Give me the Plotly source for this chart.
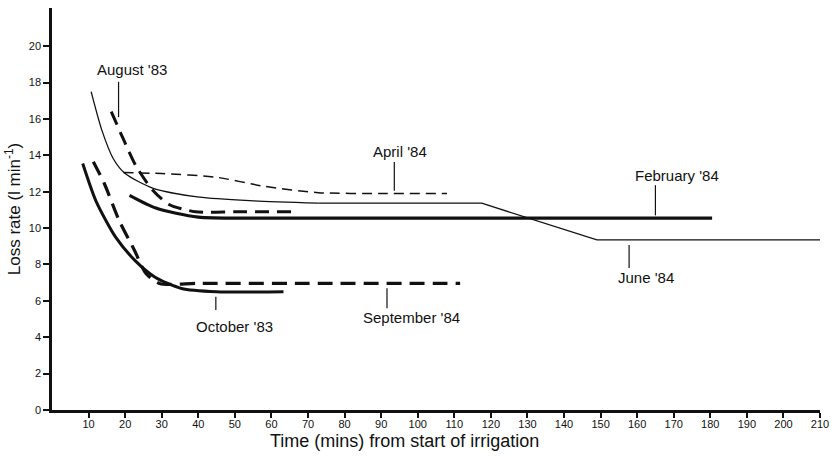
import plotly.graph_objects as go

# ---- data ----
june84_x = [10.7, 13.6, 16.8, 20.0, 27.5, 40.3, 55, 72.8, 95, 117.5, 149, 180, 210]
june84_y = [17.5, 15.4, 13.8, 13.0, 12.2, 11.7, 11.5, 11.37, 11.37, 11.37, 9.35, 9.35, 9.35]
june84_bend = 7  # index where the curved part ends and the straight segments begin

april84_x = [19.5, 30, 44.8, 58, 72.8, 90, 108]
april84_y = [13.05, 13.0, 12.8, 12.3, 11.95, 11.9, 11.9]

aug83_x = [16.2, 19.5, 23.0, 27.5, 32.0, 39.2, 50, 66]
aug83_y = [16.4, 14.9, 13.4, 12.1, 11.3, 10.9, 10.9, 10.9]

feb84_x = [21.2, 28.4, 40.0, 60, 100, 140, 180.5]
feb84_y = [11.8, 11.1, 10.6, 10.55, 10.55, 10.55, 10.55]

oct83_x = [8.4, 12.0, 17.4, 22.8, 28.2, 35.4, 45, 63.3]
oct83_y = [13.55, 11.5, 9.5, 8.2, 7.3, 6.68, 6.5, 6.5]

sep84_x = [11.3, 14.3, 18.4, 22.5, 25.7, 29.4, 40, 70, 111.6]
sep84_y = [13.65, 12.45, 10.4, 8.8, 7.5, 6.96, 6.96, 6.96, 6.96]

label_text = ["August '83", "April '84", "February '84", "June '84", "October '83", "September '84"]
label_x = [21.9, 95.1, 171.0, 162.5, 50.0, 98.4]
label_y = [18.7, 14.2, 12.9, 7.3, 4.58, 5.1]
leader_x = [18.2, 93.6, 165.0, 157.8, 44.8, 91.6]
leader_y0 = [18.04, 13.64, 12.36, 9.07, 6.23, 6.7]
leader_y1 = [16.1, 12.05, 10.7, 7.8, 5.5, 5.6]

x_ticks = list(range(10, 211, 10))
y_ticks = list(range(0, 21, 2))

INK = "#111111"
FONT = "Liberation Sans Narrow, Liberation Sans, Arial, sans-serif"
TFONT = "Liberation Sans, Arial, sans-serif"

fig = go.Figure()

def add(x, y, width, dash, shape="spline"):
    line = dict(color=INK, width=width, dash=dash, shape=shape)
    if shape == "spline":
        line["smoothing"] = 0.7
    fig.add_trace(go.Scatter(x=x, y=y, mode="lines", line=line,
                             showlegend=False, hoverinfo="skip"))

add(june84_x[:june84_bend + 1], june84_y[:june84_bend + 1], 1.3, "solid")
add(june84_x[june84_bend:], june84_y[june84_bend:], 1.3, "solid", shape="linear")
add(april84_x, april84_y, 1.5, "10px,6px")
add(aug83_x, aug83_y, 3.0, "14px,8px")
add(feb84_x, feb84_y, 3.2, "solid")
add(oct83_x, oct83_y, 3.0, "solid")
add(sep84_x, sep84_y, 3.2, "15px,8px")

for t, lx, ly, kx, k0, k1 in zip(label_text, label_x, label_y, leader_x, leader_y0, leader_y1):
    fig.add_annotation(x=lx, y=ly, text=t, showarrow=False,
                       font=dict(family=TFONT, size=15, color=INK))
    fig.add_shape(type="line", x0=kx, x1=kx, y0=k0, y1=k1,
                  line=dict(color=INK, width=1.2))

fig.add_annotation(xref="paper", yref="paper", x=(408 - 52) / 775, y=-0.077,
                   yanchor="middle", text="Time (mins) from start of irrigation",
                   showarrow=False,
                   font=dict(family=TFONT, size=18, color=INK))

fig.update_layout(
    width=837, height=457,
    margin=dict(l=52, r=10, t=8, b=47),
    paper_bgcolor="white", plot_bgcolor="white",
    font=dict(family=FONT, color=INK, size=11),
    xaxis=dict(range=[0, 210], tickvals=x_ticks, ticktext=[str(v) for v in x_ticks],
               showgrid=False, zeroline=False, showline=True, linecolor=INK, linewidth=2.5,
               ticks="outside", ticklen=5, tickwidth=1.5, tickcolor=INK,
               ticklabelstandoff=-3,
               tickfont=dict(size=11, family=FONT)),
    yaxis=dict(range=[0, 22.1], tickvals=y_ticks, ticktext=[str(v) for v in y_ticks],
               showgrid=False, zeroline=False, showline=True, linecolor=INK, linewidth=2.5,
               ticks="outside", ticklen=6, tickwidth=1.5, tickcolor=INK,
               tickfont=dict(size=11, family=FONT),
               title=dict(text="Loss rate (l min<sup>-1</sup>)", standoff=4,
                          font=dict(size=17, family=TFONT))),
)

fig.write_html("out.html")
